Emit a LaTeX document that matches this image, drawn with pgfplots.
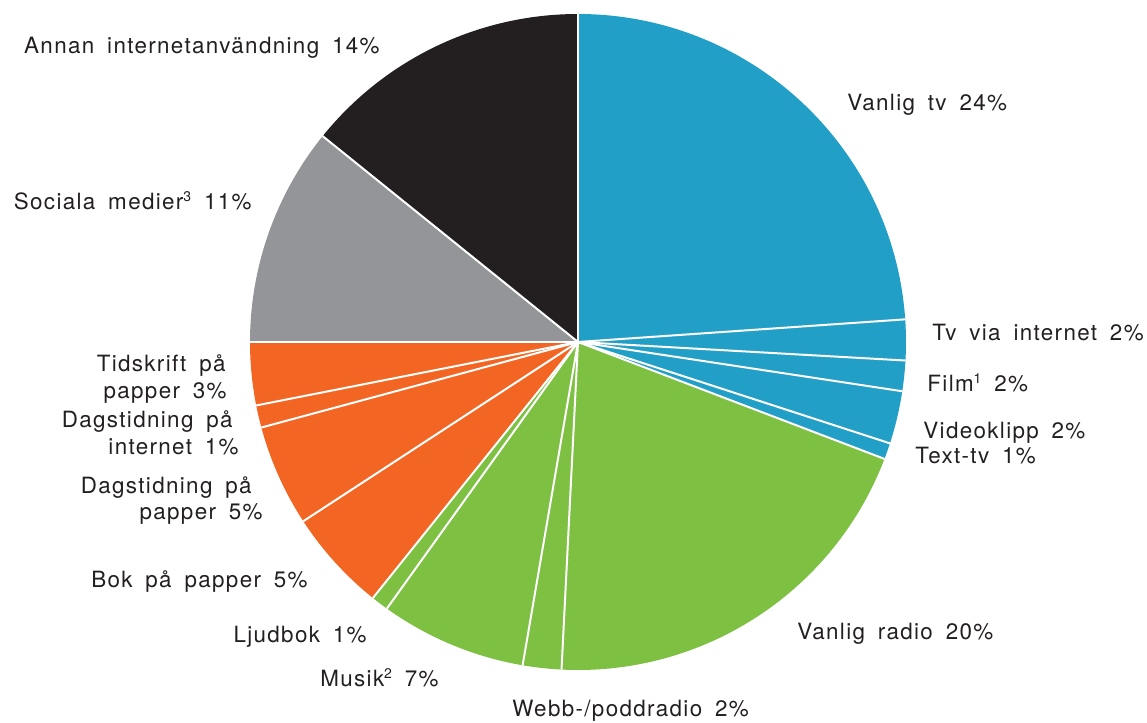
\documentclass[border=0pt]{standalone}
\usepackage{pgfplots}
\usepackage{pgfplotstable}
\pgfplotsset{compat=1.18}
\usepackage{fontspec}
\setmainfont[LetterSpace=6, WordSpace=1.7]{TeX Gyre Heros}
\definecolor{cblue}{RGB}{33,159,199}
\definecolor{cgreen}{RGB}{125,192,66}
\definecolor{corange}{RGB}{242,101,34}
\definecolor{cgray}{RGB}{147,149,152}
\definecolor{cblack}{RGB}{35,31,32}
\definecolor{ctext}{RGB}{35,31,32}
\newcommand{\fnsup}[1]{\raisebox{0.75ex}{\fontsize{7pt}{7pt}\selectfont #1}}
\pgfplotstableread{
value color
23.9 cblue
2.0 cblue
1.5 cblue
2.6 cblue
0.8 cblue
20.0 cgreen
1.9 cgreen
7.2 cgreen
0.85 cgreen
5.05 corange
5.0 corange
1.1 corange
3.1 corange
10.8 cgray
14.2 cblack
}\piedata
\begin{document}
\begin{tikzpicture}[lab/.style={font=\fontsize{11.2pt}{13pt}\selectfont, text=ctext, inner sep=0pt}]
\begin{axis}[x=0.5pt, y=0.5pt, xmin=0, xmax=1147, ymin=0, ymax=723,
  hide axis, clip=false]
\path (axis cs:0,0) rectangle (axis cs:1147,723);
\pgfplotstablegetrowsof{\piedata}
\pgfmathtruncatemacro\nrows{\pgfplotsretval-1}
\def\cum{0}
\pgfplotsforeachungrouped \i in {0,...,\nrows}{%
  \pgfplotstablegetelem{\i}{value}\of\piedata \let\v\pgfplotsretval
  \pgfplotstablegetelem{\i}{color}\of\piedata \let\c\pgfplotsretval
  \pgfmathsetmacro\a{90-3.6*\cum}%
  \pgfmathsetmacro\b{90-3.6*(\cum+\v)}%
  \edef\temp{\noexpand\fill[\c] (axis cs:578,381) -- ++(\a:164pt) arc[start angle=\a, end angle=\b, radius=164pt] -- cycle;}%
  \temp
  \pgfmathsetmacro\cum{\cum+\v}%
}
\def\cum{0}
\pgfplotsforeachungrouped \i in {0,...,\nrows}{%
  \pgfplotstablegetelem{\i}{value}\of\piedata \let\v\pgfplotsretval
  \pgfmathsetmacro\a{90-3.6*\cum}%
  \edef\temp{\noexpand\draw[white, line width=1pt] (axis cs:578,381) -- ++(\a:164pt);}%
  \temp
  \pgfmathsetmacro\cum{\cum+\v}%
}
\node[lab, anchor=base east] at (axis cs:380,669) {Annan internetanvändning 14\%};
\node[lab, anchor=base west] at (axis cs:847,612) {Vanlig tv 24\%};
\node[lab, anchor=base east] at (axis cs:252,513) {Sociala medier\fnsup{3} 11\%};
\node[lab, anchor=base west] at (axis cs:932,382) {Tv via internet 2\%};
\node[lab, anchor=base east] at (axis cs:226,351) {Tidskrift på};
\node[lab, anchor=base east] at (axis cs:227,324) {papper 3\%};
\node[lab, anchor=base west] at (axis cs:927,331) {Film\fnsup{1} 2\%};
\node[lab, anchor=base east] at (axis cs:233,295) {Dagstidning på};
\node[lab, anchor=base east] at (axis cs:239,268) {internet 1\%};
\node[lab, anchor=base west] at (axis cs:923,284) {Videoklipp 2\%};
\node[lab, anchor=base west] at (axis cs:915,259) {Text-tv 1\%};
\node[lab, anchor=base east] at (axis cs:252,229) {Dagstidning på};
\node[lab, anchor=base east] at (axis cs:263,203) {papper 5\%};
\node[lab, anchor=base east] at (axis cs:308,135) {Bok på papper 5\%};
\node[lab, anchor=base east] at (axis cs:367,80) {Ljudbok 1\%};
\node[lab, anchor=base west] at (axis cs:797,83) {Vanlig radio 20\%};
\node[lab, anchor=base east] at (axis cs:439,36) {Musik\fnsup{2} 7\%};
\node[lab, anchor=base west] at (axis cs:512,6) {Webb-/poddradio 2\%};
\end{axis}
\end{tikzpicture}
\end{document}
